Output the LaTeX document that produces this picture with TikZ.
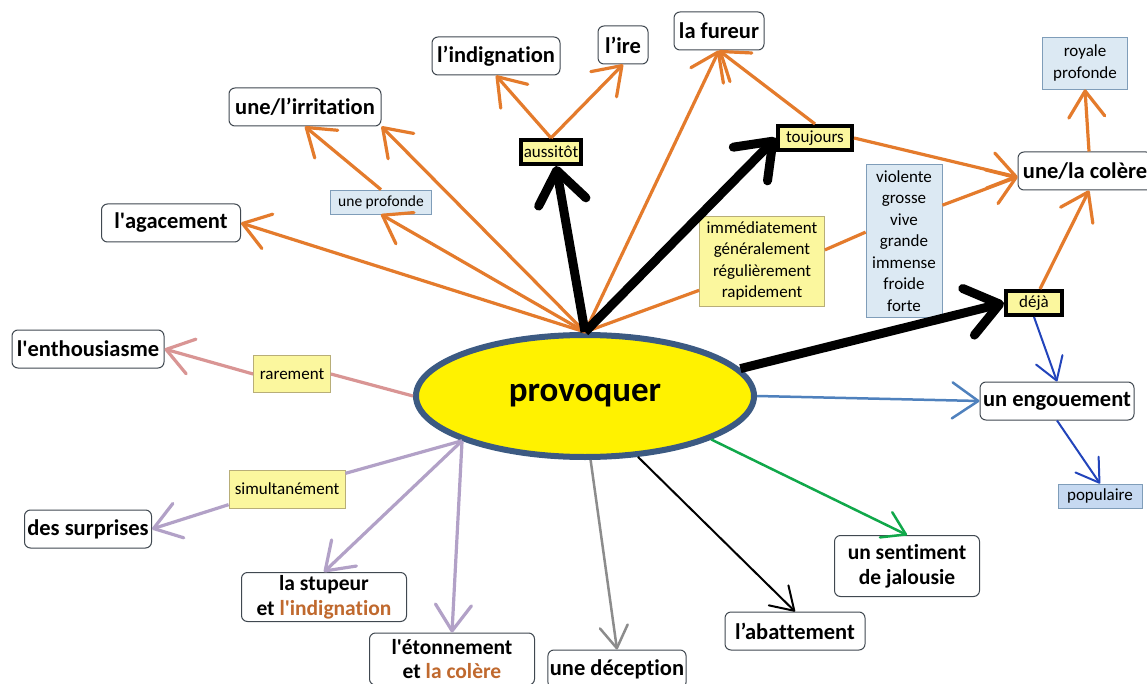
\documentclass[tikz,border=0pt]{standalone}
\usepackage{fontspec}
\setmainfont{Carlito}[Ligatures={TeX,NoCommon}]
\usetikzlibrary{arrows.meta,shapes.geometric}
\definecolor{orA}{HTML}{E47B2C}
\definecolor{pinkA}{HTML}{D99594}
\definecolor{lavA}{HTML}{B2A1C7}
\definecolor{steelA}{HTML}{4F81BD}
\definecolor{dblueA}{HTML}{2244BB}
\definecolor{greenA}{HTML}{10A84A}
\definecolor{grayA}{HTML}{8C8C8C}
\definecolor{ellB}{HTML}{3C5A82}
\definecolor{boxB}{HTML}{404850}
\definecolor{yelF}{HTML}{FBF79E}
\definecolor{yelB}{HTML}{B8AE78}
\definecolor{bluF}{HTML}{DCE9F3}
\definecolor{bluB}{HTML}{7F9DB9}
\definecolor{popF}{HTML}{C6D9F1}
\definecolor{brn}{HTML}{C0692E}
\tikzset{
  term/.style={draw=boxB, line width=1pt, rounded corners=6pt, fill=white,
    font=\bfseries\fontsize{22.5}{25}\selectfont, minimum height=38pt, inner sep=2pt, align=center},
  lab/.style={fill=yelF, draw=yelB, line width=0.8pt, font=\fontsize{17}{21.5}\selectfont, inner sep=2pt, align=center},
  labk/.style={lab, draw=black, line width=4pt},
  labb/.style={lab, fill=bluF, draw=bluB},
  arr/.style={line width=3.2pt, -{Straight Barb[length=26pt,width=36pt,round]}},
  orarr/.style={arr, draw=orA},
  orline/.style={line width=3.2pt, draw=orA},
  bigarr/.style={line width=9pt, draw=black, -{Straight Barb[length=32pt,width=48pt,round]}},
  thinarr/.style={line width=2pt, -{Straight Barb[length=22pt,width=28pt,round]}},
}
\begin{document}
\begin{tikzpicture}[x=1pt,y=-1pt]
\useasboundingbox (0,0) rectangle (1147,684);
\fill[white] (0,0) rectangle (1147,684);

% central ellipse
\node[ellipse, draw=ellB, line width=6pt, fill=yellow, minimum width=338pt, minimum height=122pt,
  font=\bfseries\fontsize{35}{38}\selectfont] (prov) at (585,396) {provoquer};

% terms
\node[term, minimum width=128pt] (indig) at (496,56) {l’indignation};
\node[term, minimum width=50pt] (ire) at (623,45) {l’ire};
\node[term, minimum width=90pt] (fur) at (719,31) {la fureur};
\node[term, minimum width=152pt] (irrit) at (305,107) {une/l’irritation};
\node[term, minimum width=139pt] (agac) at (171,223) {l\textquotesingle agacement};
\node[term, minimum width=134pt] (col) at (1085,171) {une/la colère};
\node[term, minimum width=152pt] (enth) at (88,349) {l\textquotesingle enthousiasme};
\node[term, minimum width=154pt] (enga) at (1057,401) {un engouement};
\node[term, minimum width=127pt] (surp) at (88,529) {des surprises};
\node[term, minimum width=165pt, minimum height=49pt, font=\bfseries\fontsize{21.5}{25}\selectfont] (stup) at (324,597) {la stupeur\\et \textcolor{brn}{l\textquotesingle indignation}};
\node[term, minimum width=165pt, minimum height=52pt, font=\bfseries\fontsize{21.5}{24}\selectfont] (eton) at (452,659) {l\textquotesingle étonnement\\et \textcolor{brn}{la colère}};
\node[term, minimum width=136pt] (decep) at (617,669) {une déception};
\node[term, minimum width=140pt] (abat) at (795,631) {l’abattement};
\node[term, minimum width=145pt, minimum height=61pt, font=\bfseries\fontsize{21.5}{25}\selectfont] (sent) at (907,566) {un sentiment\\de jalousie};

% labels
\node[labk, minimum width=60pt, minimum height=24pt] (auss) at (551,152) {aussitôt};
\node[labk, minimum width=74pt, minimum height=24pt] (touj) at (815,138) {toujours};
\node[labk, minimum width=56pt, minimum height=24pt] (deja) at (1034,303) {déjà};
\node[labb, minimum width=101pt, minimum height=24pt, font=\fontsize{15.5}{18}\selectfont] (prof) at (381,202) {une profonde};
\node[labb, minimum width=85pt, minimum height=52pt] (roy) at (1085,63) {royale\\profonde};
\node[labb, minimum width=76pt, minimum height=153pt] (viol) at (904,241) {violente\\grosse\\vive\\grande\\immense\\froide\\forte};
\node[lab, minimum width=125pt, minimum height=90pt] (imm) at (762,261) {immédiatement\\généralement\\régulièrement\\rapidement};
\node[lab, minimum width=77pt, minimum height=37pt] (rare) at (292,374) {rarement};
\node[lab, minimum width=116pt, minimum height=38pt] (simu) at (287,489) {simultanément};
\node[labb, fill=popF, minimum width=84pt, minimum height=24pt] (pop) at (1100,496) {populaire};

% orange connectors from the hub
\draw[orarr] (prov.north) -- (agac.east);
\draw[orarr] (prov.north) -- (prof.south);
\draw[orarr] (prof.north) -- (irrit.south);
\draw[orarr] (prov.north) -- (irrit.south east);
\draw[orarr] (prov.north) -- (fur.south);
\draw[orline] (prov.north) -- (imm.205);
\draw[orline] (imm.10) -- (viol.167);
\draw[orarr] (viol.43) -- ([yshift=-6pt]col.west);
\draw[orarr] (auss.north) -- (indig.south);
\draw[orarr] (auss.north) -- (ire.south);
\draw[orarr] (touj.north) -- (fur.south);
\draw[orarr] (touj.east) -- ([yshift=-6pt]col.west);
\draw[orarr] ([xshift=6pt]deja.north) -- ([xshift=4pt]col.south);
\draw[orarr] ([xshift=4pt]col.north) -- (roy.south);

% thick black
\draw[bigarr] (prov.north) -- ([xshift=5pt]auss.south);
\draw[bigarr] (prov.north) -- (touj.west);
\draw[bigarr] (prov.10) -- (deja.west);

% blue
\draw[thinarr, draw=dblueA] (deja.south) -- (enga.north);
\draw[thinarr, draw=dblueA] (enga.south) -- (pop.north);
\draw[arr, draw=steelA, line width=2.5pt] (prov.east) -- (enga.west);

% pink
\draw[line width=3.2pt, draw=pinkA] (prov.west) -- (rare.east);
\draw[arr, draw=pinkA] (rare.west) -- (enth.east);

% lavender
\draw[line width=3.2pt, draw=lavA] (prov.200) -- (simu.15);
\draw[arr, draw=lavA] (simu.195) -- (surp.east);
\draw[arr, draw=lavA] (prov.200) -- (stup.north);
\draw[arr, draw=lavA] (prov.200) -- (eton.north);

% lower ones
\draw[thinarr, draw=grayA, line width=2.5pt] (prov.275) -- (decep.north);
\draw[thinarr, draw=black] (prov.311) -- (abat.north);
\draw[thinarr, draw=greenA, line width=2.5pt] (prov.341) -- (sent.north);
\end{tikzpicture}
\end{document}
